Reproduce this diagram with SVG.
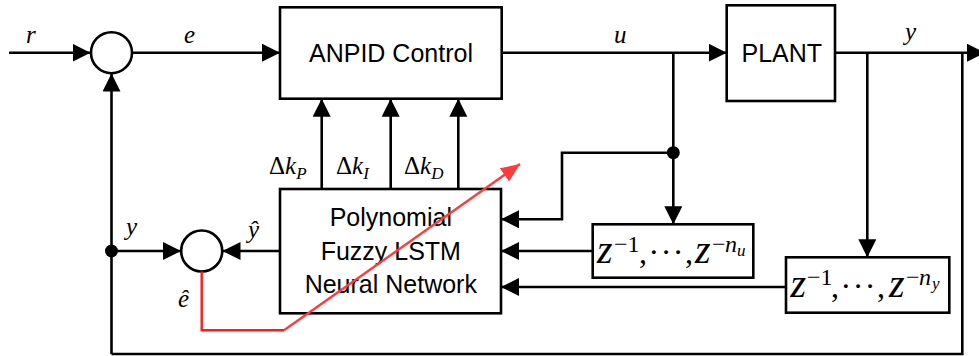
<svg xmlns="http://www.w3.org/2000/svg" width="979" height="356" viewBox="0 0 979 356">
<defs>
<style>
.box{fill:#fff;stroke:#000;stroke-width:2.6}
.ln{fill:none;stroke:#000;stroke-width:2.6}
.arr{marker-end:url(#ah)}
.red{fill:none;stroke:#ff1a1a;stroke-width:2.4}
.lbl{font-family:"Liberation Sans",Arial,sans-serif;font-size:25px;fill:#000}
.m{font-family:"Liberation Serif","Times New Roman",serif;font-style:italic;font-size:25px;fill:#000}
.z{font-family:"Liberation Serif","Times New Roman",serif;font-style:italic;font-size:40px;fill:#000}
.up{font-style:normal}
.sup{font-size:24px}
.sub{font-size:17px}
.pun{font-size:32px;letter-spacing:1.5px}
</style>
<marker id="ah" markerUnits="userSpaceOnUse" markerWidth="19" markerHeight="19" refX="18" refY="9" orient="auto">
<path d="M0,0 L18,9 L0,18 Z" fill="#000"/>
</marker>
<marker id="ahr" markerUnits="userSpaceOnUse" markerWidth="20" markerHeight="16" refX="19" refY="8" orient="auto">
<path d="M0,0 L19,8 L0,16 Z" fill="#ff3b3b"/>
</marker>
</defs>
<rect width="979" height="356" fill="#fff"/>

<g id="sum1">
<circle cx="111.5" cy="52.7" r="20.5" class="box"/>
</g>
<g id="sum2">
<circle cx="201.7" cy="251" r="20.5" class="box"/>
</g>

<g id="anpid">
<rect class="box" x="280" y="7.3" width="221.7" height="91.4"/>
<text class="lbl" x="391" y="62" text-anchor="middle">ANPID Control</text>
</g>

<g id="plant">
<rect class="box" x="726.7" y="5.3" width="108.3" height="95.7"/>
<text class="lbl" x="781.8" y="62" text-anchor="middle">PLANT</text>
</g>

<g id="nn">
<rect class="box" x="280" y="189" width="221" height="124.3"/>
<text class="lbl" x="390.8" y="225.7" text-anchor="middle">Polynomial</text>
<text class="lbl" x="390.8" y="260" text-anchor="middle">Fuzzy LSTM</text>
<text class="lbl" x="390.8" y="293.3" text-anchor="middle">Neural Network</text>
</g>

<g id="delay_u">
<rect class="box" x="592.7" y="224.3" width="160.6" height="53.4"/>
<text class="z" y="263.3"><tspan x="597">z</tspan><tspan class="up sup" x="614" y="252">−1</tspan><tspan class="up pun" x="639" y="263.3">,···,</tspan><tspan x="695" y="263.3">z</tspan><tspan class="up sup" x="712" y="252">−</tspan><tspan class="sup" x="725" y="252">n</tspan><tspan class="sub" x="737" y="256">u</tspan></text>
</g>

<g id="delay_y">
<rect class="box" x="786" y="257.3" width="163.3" height="55.4"/>
<text class="z" y="297.3"><tspan x="790.5">z</tspan><tspan class="up sup" x="807" y="285">−1</tspan><tspan class="up pun" x="831" y="297.3">,···,</tspan><tspan x="889" y="297.3">z</tspan><tspan class="up sup" x="906" y="285">−</tspan><tspan class="sup" x="919" y="285">n</tspan><tspan class="sub" x="932" y="289">y</tspan></text>
</g>

<g id="labels">
<text class="m" x="26" y="43">r</text>
<text class="m" x="184" y="43">e</text>
<text class="m" x="614" y="43">u</text>
<text class="m" x="905" y="40">y</text>
<text class="m" x="126" y="235">y</text>
<text class="m" x="248" y="238">ŷ</text>
<text class="m" x="178" y="307">ê</text>
<text class="m" x="269" y="174"><tspan class="up">Δ</tspan>k<tspan class="sub" dy="5">P</tspan></text>
<text class="m" x="336" y="174"><tspan class="up">Δ</tspan>k<tspan class="sub" dy="5">I</tspan></text>
<text class="m" x="404" y="174"><tspan class="up">Δ</tspan>k<tspan class="sub" dy="5">D</tspan></text>
</g>

<g id="connectors">
<path class="ln arr" d="M9,52.7 H90.5"/>
<path class="ln arr" d="M132.5,52.7 H280"/>
<path class="ln arr" d="M501.7,52.7 H726.7"/>
<path class="ln arr" d="M835,52.7 H985"/>
<path class="ln arr" d="M111.5,354 V73.5"/>
<path class="ln" d="M111.5,354 H962.3 V52.7"/>
<path class="ln arr" d="M111.5,251 H181"/>
<path class="ln arr" d="M280,251 H222.5"/>
<path class="ln arr" d="M321.7,189 V98.7"/>
<path class="ln arr" d="M390.7,189 V98.7"/>
<path class="ln arr" d="M458.3,189 V98.7"/>
<path class="ln arr" d="M673.3,52.7 V224.3"/>
<path class="ln arr" d="M673.3,152.7 H562 V219.3 H501"/>
<path class="ln arr" d="M592.7,251 H501"/>
<path class="ln arr" d="M867.3,52.7 V257.3"/>
<path class="ln arr" d="M786,287 H501"/>
<circle cx="673.3" cy="152.7" r="6.5" fill="#000"/>
<circle cx="111.5" cy="251" r="6.5" fill="#000"/>
<path class="red" d="M201.7,271.5 V330.3 H284"/>
<path d="M284,330.3 L520,164" fill="none" stroke="#ff3b3b" stroke-width="2.4" marker-end="url(#ahr)"/>
</g>
</svg>
